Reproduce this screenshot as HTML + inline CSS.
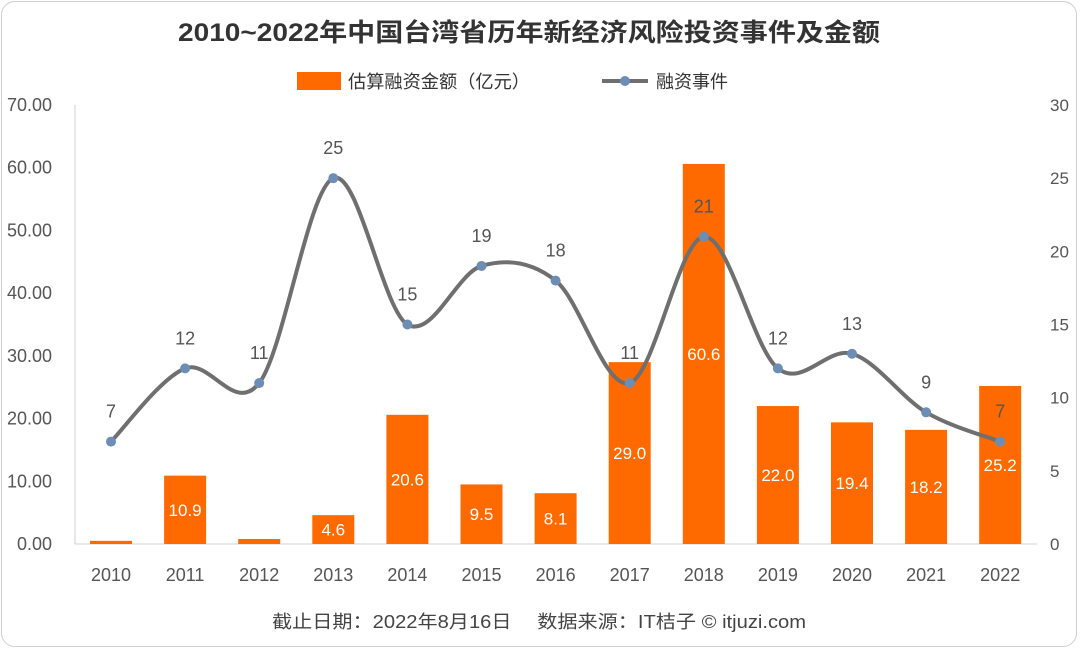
<!DOCTYPE html>
<html><head><meta charset="utf-8">
<style>
body{margin:0;background:#fff;}
#wrap{position:relative;width:1080px;height:650px;overflow:hidden;background:#fff;font-family:"Liberation Sans","Noto Sans CJK SC",sans-serif;}
#frame{position:absolute;left:1px;top:1px;width:1076px;height:646px;border:1px solid #cfcfcf;border-radius:14px;box-sizing:border-box;}
</style></head>
<body>
<div id="wrap">
<div id="frame"></div>
<svg id="chart" width="1080" height="650" style="position:absolute;left:0;top:0"></svg>
</div>
<script>
const categories=["2010","2011","2012","2013","2014","2015","2016","2017","2018","2019","2020","2021","2022"];
const amounts=[0.5,10.9,0.8,4.6,20.6,9.5,8.1,29.0,60.6,22.0,19.4,18.2,25.2];
const amountLabels=["","10.9","","4.6","20.6","9.5","8.1","29.0","60.6","22.0","19.4","18.2","25.2"];
const events=[7,12,11,25,15,19,18,11,21,12,13,9,7];
const leftTicks=["0.00","10.00","20.00","30.00","40.00","50.00","60.00","70.00"];
const rightTicks=[0,5,10,15,20,25,30];

const NS="http://www.w3.org/2000/svg";
const svg=document.getElementById('chart');
function mk(tag,attrs,txt){const e=document.createElementNS(NS,tag);for(const k in attrs)e.setAttribute(k,attrs[k]);if(txt!==undefined)e.textContent=txt;svg.appendChild(e);return e;}
const X0=111,DX=74.1,Y0=544,Y1=105;
const xs=i=>X0+i*DX;
const yL=v=>Y0-(v/70)*(Y0-Y1);
const yR=v=>Y0-(v/30)*(Y0-Y1);

let t=mk('text',{x:178,y:41,'font-size':25,'font-weight':'bold',fill:'#333',textLength:702,lengthAdjust:'spacingAndGlyphs'},'2010~2022年中国台湾省历年新经济风险投资事件及金额');


let r=mk('rect',{x:297,y:72,width:44,height:18,fill:'#ff6a00'});

t=mk('text',{x:348,y:88,'font-size':18,fill:'#333',textLength:182,lengthAdjust:'spacingAndGlyphs'},'估算融资金额（亿元）');

let l=mk('line',{x1:602,y1:81,x2:648,y2:81,stroke:'#6f6f6f','stroke-width':4});

let c=mk('circle',{cx:625,cy:81,r:5,fill:'#6c8eb5'});

t=mk('text',{x:656,y:88,'font-size':18,fill:'#333'},'融资事件');


let ax=mk('line',{x1:75,y1:Y0,x2:1037,y2:Y0,stroke:'#d0d0d0','stroke-width':1});

ax=mk('line',{x1:75,y1:Y1,x2:75,y2:Y0,stroke:'#d0d0d0','stroke-width':1});

leftTicks.forEach((s,i)=>{const e=mk('text',{x:52,y:yL(i*10)+6,'text-anchor':'end','font-size':18,fill:'#555'},s);
});
rightTicks.forEach(v=>{const e=mk('text',{x:1050,y:yR(v)+6,'text-anchor':'start','font-size':17,fill:'#555'},String(v));
});
categories.forEach((s,i)=>{const e=mk('text',{x:xs(i),y:581,'text-anchor':'middle','font-size':18,fill:'#555'},s);
});

const BW=42;
amounts.forEach((v,i)=>{const y=yL(v);const b=mk('rect',{x:xs(i)-BW/2,y:y,width:BW,height:Y0-y,fill:'#ff6a00'});

if(amountLabels[i]){const e=mk('text',{x:xs(i),y:(y+Y0)/2+6,'text-anchor':'middle','font-size':17,fill:'#fff'},amountLabels[i]);
}});

const pts=events.map((v,i)=>[xs(i),yR(v)]);
let d='M'+pts[0][0]+','+pts[0][1];
for(let i=0;i<pts.length-1;i++){const p0=pts[i-1]||pts[i],p1=pts[i],p2=pts[i+1],p3=pts[i+2]||p2;
const c1=[p1[0]+(p2[0]-p0[0])/6,p1[1]+(p2[1]-p0[1])/6],c2=[p2[0]-(p3[0]-p1[0])/6,p2[1]-(p3[1]-p1[1])/6];
d+=' C'+c1+' '+c2+' '+p2;}
const path=mk('path',{d:d,fill:'none',stroke:'#6f6f6f','stroke-width':4});

pts.forEach((p,i)=>{const m=mk('circle',{cx:p[0],cy:p[1],r:5,fill:'#6c8eb5'});

const e=mk('text',{x:p[0],y:p[1]-24,'text-anchor':'middle','font-size':18,fill:'#555'},String(events[i]));
});

t=mk('text',{x:272,y:628,'font-size':18,fill:'#444',textLength:534,lengthAdjust:'spacingAndGlyphs'},'截止日期：2022年8月16日　 数据来源：IT桔子 © itjuzi.com');

</script>
</body></html>
